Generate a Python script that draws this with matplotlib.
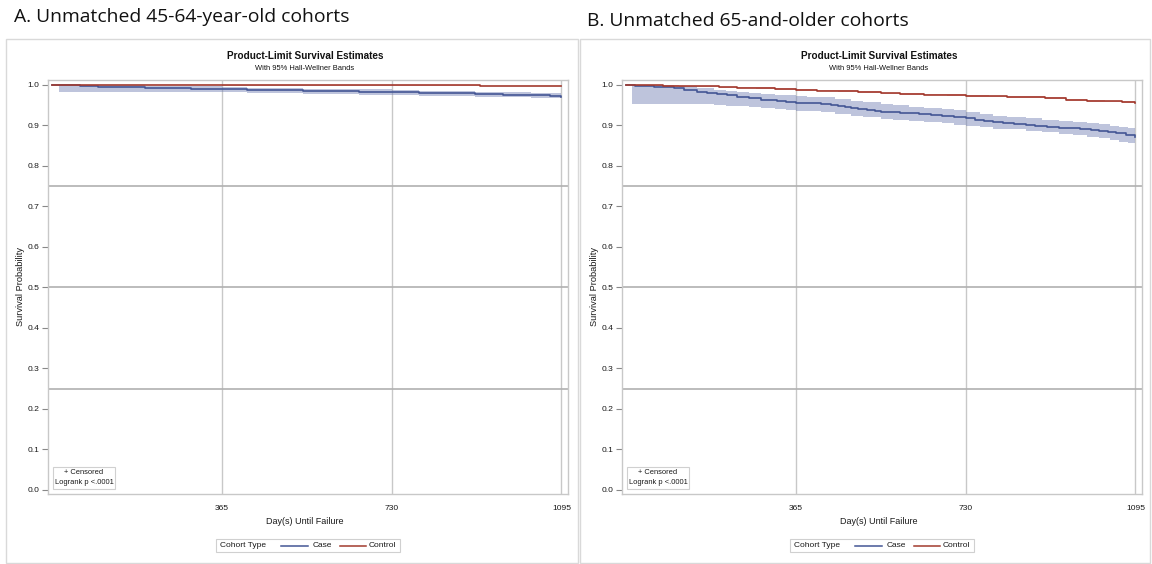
import matplotlib
matplotlib.use("Agg")
import matplotlib.pyplot as plt
from matplotlib.patches import Rectangle
from matplotlib.lines import Line2D

# ---------------- data ----------------
panel_titles = ["A. Unmatched 45-64-year-old cohorts", "B. Unmatched 65-and-older cohorts"]
x_ticks = [365, 730, 1095]
y_ticks = [0.0, 0.1, 0.2, 0.3, 0.4, 0.5, 0.6, 0.7, 0.8, 0.9, 1.0]
ref_lines_y = [0.25, 0.5, 0.75]

# Panel A
a_case_t = [0, 30, 60, 100, 150, 200, 250, 300, 365, 420, 480, 540, 600, 660, 730,
            790, 850, 910, 970, 1030, 1070, 1095]
a_case_s = [1.0, 0.9985, 0.997, 0.9955, 0.994, 0.9925, 0.9915, 0.9905, 0.9893, 0.988,
            0.9868, 0.9855, 0.9845, 0.9832, 0.9819, 0.9805, 0.979, 0.977, 0.9755, 0.974,
            0.9725, 0.9711]
a_band_t = [15, 60, 100, 150, 200, 260, 300, 365, 420, 480, 540, 600, 660, 730, 790,
            850, 910, 970, 1030, 1095]
a_band_lo = [0.983, 0.983, 0.983, 0.983, 0.983, 0.983, 0.982, 0.9815, 0.9805, 0.979,
             0.978, 0.977, 0.976, 0.9745, 0.9735, 0.972, 0.970, 0.969, 0.967, 0.9655]
a_band_hi = [1.0, 1.0, 0.9995, 0.999, 0.998, 0.997, 0.996, 0.9945, 0.993, 0.992, 0.991,
             0.990, 0.989, 0.9875, 0.986, 0.985, 0.983, 0.982, 0.980, 0.977]
a_ctrl_t = [0, 365, 920, 1095]
a_ctrl_s = [1.0, 0.9985, 0.997, 0.997]
a_ctrl_lo = [0.9995, 0.998, 0.9963, 0.9963]
a_ctrl_hi = [1.0, 0.9992, 0.9978, 0.9978]

# Panel B
b_case_t = [0, 20, 40, 60, 80, 103, 125, 153, 175, 196, 218, 240, 265, 290, 310, 325,
            345, 365, 390, 419, 440, 455, 470, 483, 500, 519, 535, 548, 570, 590, 608,
            630, 655, 680, 705, 732, 750, 770, 788, 810, 835, 859, 880, 905, 931, 955,
            975, 1000, 1017, 1035, 1053, 1075, 1095]
b_case_s = [1.0, 0.998, 0.997, 0.9958, 0.994, 0.9918, 0.988, 0.9835, 0.980, 0.977,
            0.974, 0.971, 0.967, 0.963, 0.962, 0.9605, 0.958, 0.956, 0.954, 0.952,
            0.950, 0.948, 0.945, 0.942, 0.940, 0.938, 0.935, 0.933, 0.932, 0.931,
            0.930, 0.928, 0.926, 0.9235, 0.921, 0.917, 0.913, 0.910, 0.908, 0.906,
            0.904, 0.902, 0.899, 0.897, 0.8946, 0.893, 0.891, 0.889, 0.887, 0.884,
            0.881, 0.877, 0.8725]
b_band_t = [14, 60, 103, 153, 189, 215, 240, 265, 290, 320, 345, 365, 390, 419, 450,
            483, 510, 548, 575, 608, 640, 680, 705, 732, 760, 788, 820, 859, 895, 931,
            960, 990, 1017, 1040, 1060, 1080, 1095]
b_band_lo = [0.953, 0.953, 0.953, 0.953, 0.951, 0.949, 0.948, 0.9455, 0.943, 0.940,
             0.938, 0.9366, 0.935, 0.9325, 0.928, 0.924, 0.920, 0.916, 0.914, 0.912,
             0.909, 0.905, 0.902, 0.899, 0.895, 0.892, 0.890, 0.887, 0.883, 0.878,
             0.875, 0.871, 0.868, 0.864, 0.860, 0.857, 0.854]
b_band_hi = [1.0, 0.999, 0.997, 0.992, 0.988, 0.985, 0.982, 0.979, 0.977, 0.975, 0.974,
             0.973, 0.971, 0.969, 0.965, 0.961, 0.957, 0.953, 0.950, 0.946, 0.943,
             0.940, 0.937, 0.933, 0.928, 0.9235, 0.921, 0.918, 0.914, 0.911, 0.908,
             0.905, 0.903, 0.899, 0.896, 0.893, 0.8906]
b_ctrl_t = [0, 40, 80, 115, 160, 200, 240, 280, 320, 365, 410, 455, 500, 548, 590, 640,
            690, 732, 780, 820, 859, 900, 945, 990, 1030, 1065, 1095]
b_ctrl_s = [1.0, 0.999, 0.998, 0.997, 0.996, 0.9945, 0.9934, 0.992, 0.990, 0.9877,
            0.986, 0.9844, 0.982, 0.9794, 0.978, 0.976, 0.9745, 0.9728, 0.9715, 0.9705,
            0.9696, 0.967, 0.963, 0.961, 0.959, 0.957, 0.9547]
b_ctrl_lo = [1.0, 0.9975, 0.9965, 0.9955, 0.9945, 0.993, 0.9918, 0.9903, 0.9883,
             0.986, 0.9842, 0.9826, 0.9802, 0.9776, 0.9761, 0.9741, 0.9726, 0.9708,
             0.9695, 0.9684, 0.9674, 0.9648, 0.9607, 0.9586, 0.9565, 0.9544, 0.952]
b_ctrl_hi = [1.0, 1.0, 0.9992, 0.9983, 0.9973, 0.9958, 0.9948, 0.9935, 0.9916, 0.9893,
             0.9877, 0.9861, 0.9837, 0.9811, 0.9797, 0.9777, 0.9763, 0.9746, 0.9733,
             0.9724, 0.9716, 0.9691, 0.9651, 0.9632, 0.9613, 0.9594, 0.9572]

legend_title = "Cohort Type"
legend_labels = ["Case", "Control"]
inset_lines = ["+ Censored", "Logrank p <.0001"]

# ---------------- style ----------------
CASE = "#445694"
CASE_FILL = "#6F7EB3"
CTRL = "#A23A2E"
CTRL_FILL = "#D05B5B"
SAS_FONT = ["Liberation Sans", "DejaVu Sans"]
HEAD_FONT = ["Open Sans", "DejaVu Sans"]
TXT = "#1A1A1A"

W, H = 1152, 564
fig = plt.figure(figsize=(W / 100, H / 100), dpi=100)


def fx(px):
    return px / W


def fy(py):
    return 1 - py / H


panels = [
    dict(off=0, frame=(6, 39, 578, 563), title_xy=(14, 17),
         case=(a_case_t, a_case_s), band=(a_band_t, a_band_lo, a_band_hi),
         ctrl=(a_ctrl_t, a_ctrl_s), cband=(a_ctrl_t, a_ctrl_lo, a_ctrl_hi)),
    dict(off=574, frame=(580, 39, 1150, 563), title_xy=(587, 21),
         case=(b_case_t, b_case_s), band=(b_band_t, b_band_lo, b_band_hi),
         ctrl=(b_ctrl_t, b_ctrl_s), cband=(b_ctrl_t, b_ctrl_lo, b_ctrl_hi)),
]

for i, p in enumerate(panels):
    off = p["off"]
    x0, y0, x1, y1 = p["frame"]
    fig.patches.append(Rectangle((fx(x0), fy(y1)), fx(x1 - x0), (y1 - y0) / H,
                                 transform=fig.transFigure, fill=False,
                                 edgecolor="#D9D9D9", lw=1.0))
    fig.text(fx(p["title_xy"][0]), fy(p["title_xy"][1]), panel_titles[i],
             family=HEAD_FONT, fontsize=13.9, va="center", ha="left", color="#111111")

    # axes box in pixels
    L, R, T, B = 48 + off, 568 + off, 80, 494
    ax = fig.add_axes([fx(L), fy(B), fx(R - L), (B - T) / H])
    ax.set_xlim(-8, 1109)
    ax.set_ylim(-0.01, 1.012)

    for s in ax.spines.values():
        s.set_color("#C8C8C8")
        s.set_linewidth(1.0)

    for v in x_ticks:
        ax.axvline(v, color="#C8C8C8", lw=1.0, zorder=0)
    for v in ref_lines_y:
        ax.axhline(v, color="#B0B0B0", lw=1.2, zorder=0)

    bt, blo, bhi = p["band"]
    ax.fill_between(bt, blo, bhi, step="post", color=CASE_FILL, alpha=0.45, lw=0, zorder=1)
    ct, clo, chi = p["cband"]
    ax.fill_between(ct, clo, chi, step="post", color=CTRL_FILL, alpha=0.4, lw=0, zorder=1)
    ax.step(p["case"][0], p["case"][1], where="post", color=CASE, lw=1.2, zorder=3)
    ax.step(p["ctrl"][0], p["ctrl"][1], where="post", color=CTRL, lw=1.2, zorder=3)

    ax.set_xticks(x_ticks)
    ax.set_xticklabels([str(v) for v in x_ticks], family=SAS_FONT, fontsize=6.1,
                       color=TXT)
    ax.set_yticks(y_ticks)
    ax.set_yticklabels([f"{v:.1f}" for v in y_ticks], family=SAS_FONT, fontsize=6.1,
                       color=TXT)
    ax.tick_params(axis="y", length=4, width=0.8, color="#888888", pad=2)
    ax.tick_params(axis="x", length=0, pad=8)

    cx = (L + R) / 2 - 3
    fig.text(fx(cx), fy(522), "Day(s) Until Failure", family=SAS_FONT, fontsize=6.5,
             ha="center", va="center", color=TXT)
    fig.text(fx(20.7 + off), fy(287), "Survival Probability", family=SAS_FONT,
             fontsize=6.7, rotation=90, ha="center", va="center", color=TXT)

    fig.text(fx(cx), fy(56), "Product-Limit Survival Estimates", family=SAS_FONT,
             fontsize=7.2, fontweight="bold", ha="center", va="center", color="#111111")
    fig.text(fx(cx), fy(69), "With 95% Hall-Wellner Bands", family=SAS_FONT,
             fontsize=5.4, ha="center", va="center", color="#111111")

    # inset box
    bx0, by0, bx1, by1 = 53 + off, 467, 115 + off, 489
    fig.patches.append(Rectangle((fx(bx0), fy(by1)), fx(bx1 - bx0), (by1 - by0) / H,
                                 transform=fig.transFigure, fill=True, facecolor="white",
                                 edgecolor="#D0D0D0", lw=0.8, zorder=5))
    fig.text(fx((bx0 + bx1) / 2), fy(473), inset_lines[0], family=SAS_FONT, fontsize=5.4,
             ha="center", va="center", color=TXT, zorder=6)
    fig.text(fx((bx0 + bx1) / 2), fy(483), inset_lines[1], family=SAS_FONT, fontsize=5.4,
             ha="center", va="center", color=TXT, zorder=6)

    # legend box
    lx0, ly0, lx1, ly1 = 216 + off, 539, 400 + off, 552
    fig.patches.append(Rectangle((fx(lx0), fy(ly1)), fx(lx1 - lx0), (ly1 - ly0) / H,
                                 transform=fig.transFigure, fill=False,
                                 edgecolor="#D0D0D0", lw=0.8))
    ly = (ly0 + ly1) / 2
    fig.text(fx(220 + off), fy(ly), legend_title, family=SAS_FONT, fontsize=6.0,
             ha="left", va="center", color=TXT)
    fig.lines.append(Line2D([fx(281 + off), fx(308 + off)], [fy(ly), fy(ly)],
                            transform=fig.transFigure, color=CASE, lw=1.1))
    fig.text(fx(313 + off), fy(ly), legend_labels[0], family=SAS_FONT, fontsize=6.0,
             ha="left", va="center", color=TXT)
    fig.lines.append(Line2D([fx(340 + off), fx(366 + off)], [fy(ly), fy(ly)],
                            transform=fig.transFigure, color=CTRL, lw=1.1))
    fig.text(fx(369 + off), fy(ly), legend_labels[1], family=SAS_FONT, fontsize=6.0,
             ha="left", va="center", color=TXT)

fig.savefig("out.png", dpi=100, facecolor="white")
